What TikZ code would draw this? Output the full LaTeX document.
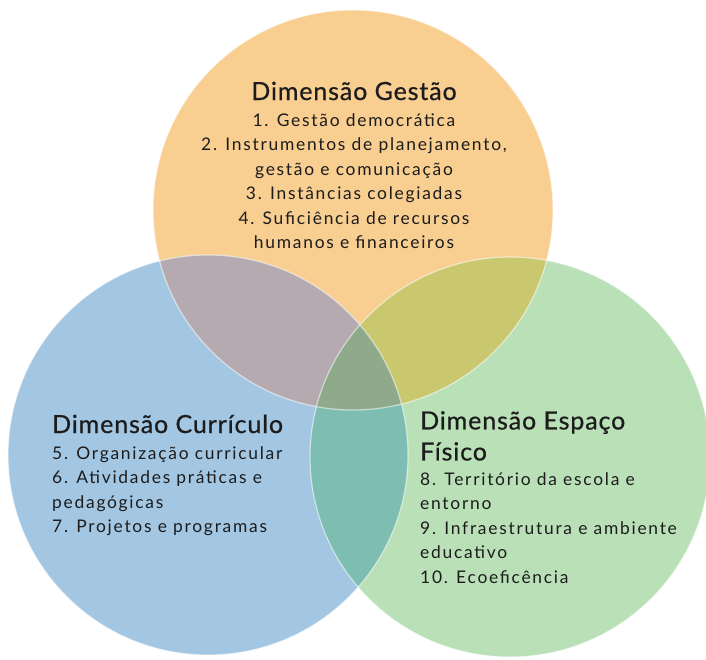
\documentclass[tikz,border=0pt]{standalone}
\usepackage{fontspec}
\setmainfont{Lato}[LetterSpace=10]
\newfontfamily\titlefont{Lato}[FakeBold=0.6, LetterSpace=3.5]
\usetikzlibrary{positioning}
\definecolor{gestaoC}{HTML}{F8CE91}
\definecolor{curriculoC}{HTML}{A3C6E2}
\definecolor{espacoC}{HTML}{BAE0B8}
\definecolor{gcC}{HTML}{B4AAB0}
\definecolor{geC}{HTML}{C9C86F}
\definecolor{ceC}{HTML}{7EBDB1}
\definecolor{allC}{HTML}{8FAA8A}
\definecolor{textC}{HTML}{1C1C1C}
\tikzset{
  titletext/.style={inner sep=0, font=\titlefont\fontsize{25}{31}\selectfont, text=textC},
  itemtext/.style={inner sep=0, font=\fontsize{17.4}{24.5}\selectfont, text=textC},
  rim/.style={draw=white, draw opacity=0.55, line width=1.2pt}
}
\begin{document}
\begin{tikzpicture}[x=1pt, y=-1pt]
    \useasboundingbox (0,0) rectangle (706,659);
    % Circle centres
    \coordinate (gestao) at (353,210);
    \coordinate (curriculo) at (208,455);
    \coordinate (espaco) at (510,457);

    % Circles
    \fill[gestaoC] (gestao) circle[radius=200pt];
    \fill[curriculoC] (curriculo) circle[radius=200pt];
    \fill[espacoC] (espaco) circle[radius=200pt];

    % Overlaps
    \begin{scope}
      \clip (gestao) circle[radius=200pt];
      \fill[gcC] (curriculo) circle[radius=200pt];
      \fill[geC] (espaco) circle[radius=200pt];
    \end{scope}
    \begin{scope}
      \clip (curriculo) circle[radius=200pt];
      \fill[ceC] (espaco) circle[radius=200pt];
      \clip (gestao) circle[radius=200pt];
      \fill[allC] (espaco) circle[radius=200pt];
    \end{scope}

    % Rims
    \draw[rim] (gestao) circle[radius=200pt];
    \draw[rim] (curriculo) circle[radius=200pt];
    \draw[rim] (espaco) circle[radius=200pt];

    % Texts
    \node[titletext, anchor=base] (gestaoTitle) at (354,100) {Dimensão Gestão};
    \node[itemtext, anchor=north, align=center] (gestaoItems) at (354,113) {1. Gestão democrática\\2. Instrumentos de planejamento,\\gestão e comunicação\\3. Instâncias colegiadas\\4. Suficiência de recursos\\humanos e financeiros};

    \node[titletext, anchor=base west] (curriculoTitle) at (52,433) {Dimensão Currículo};
    \node[itemtext, anchor=north west, align=left] (curriculoItems) at (52,446) {5. Organização curricular\\6. Atividades práticas e\\pedagógicas\\7. Projetos e programas};

    \node[titletext, anchor=north west, align=left] (espacoTitle) at (420,411) {Dimensão Espaço\\Físico};
    \node[itemtext, anchor=north west, align=left] (espacoItems) at (420,472) {8. Território da escola e\\entorno\\9. Infraestrutura e ambiente\\educativo\\10. Ecoeficência};
\end{tikzpicture}
\end{document}
